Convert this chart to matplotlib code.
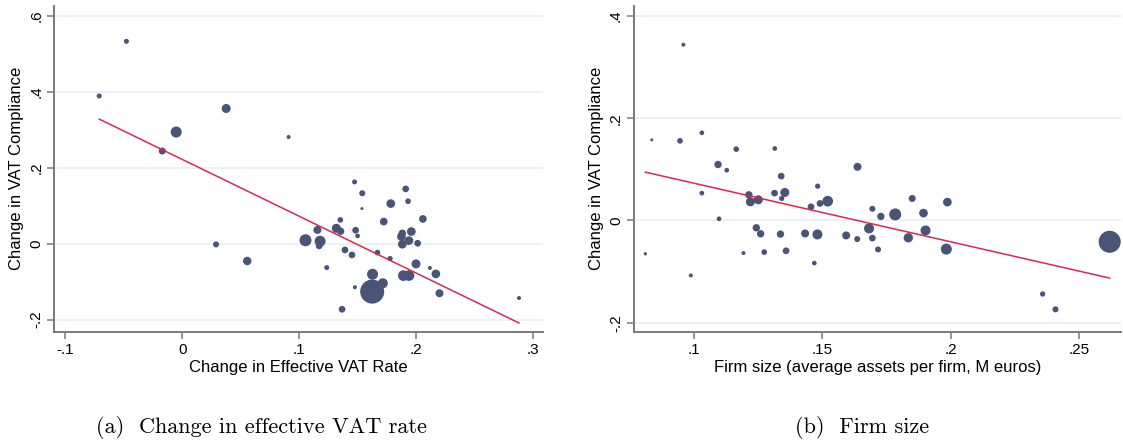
import numpy as np
import matplotlib.pyplot as plt

# Panel (a): change in effective VAT rate vs change in VAT compliance
rate_x = [-0.0477, -0.071, 0.0377, -0.0051, -0.017, 0.0911, 0.029, 0.0557,
          0.1476, 0.1542, 0.1539, 0.1914, 0.1934, 0.1786, 0.2061, 0.1726,
          0.1354, 0.1320, 0.1357, 0.1158, 0.1485, 0.1502, 0.1056, 0.1181,
          0.1173, 0.1394, 0.1454, 0.1238, 0.1672, 0.1780, 0.1877, 0.1885,
          0.1962, 0.1942, 0.1885, 0.2016, 0.2002, 0.2121, 0.2172, 0.1894,
          0.1942, 0.2203, 0.1630, 0.1718, 0.1627, 0.1479, 0.1369, 0.2884]
rate_y = [0.533, 0.389, 0.356, 0.294, 0.244, 0.281, -0.002, -0.0457,
          0.1626, 0.1328, 0.0924, 0.1442, 0.1117, 0.1055, 0.0651, 0.0581,
          0.0625, 0.0405, 0.0326, 0.0361, 0.0353, 0.0203, 0.0089, 0.0063,
          -0.0060, -0.0166, -0.0297, -0.0631, -0.0236, -0.0394, 0.0186, 0.0274,
          0.0318, 0.0080, -0.0016, 0.0010, -0.0534, -0.0640, -0.0798, -0.0842,
          -0.0842, -0.1307, -0.0807, -0.1044, -0.1264, -0.1149, -0.1729, -0.1433]
rate_w = [25, 25, 81, 121, 49, 16, 36, 72,
          25, 36, 9, 45, 32, 75, 59, 59,
          32, 81, 54, 64, 45, 22, 144, 121,
          45, 45, 45, 25, 32, 28, 75, 54,
          75, 75, 75, 45, 81, 16, 75, 114,
          114, 64, 121, 100, 576, 16, 45, 16]
rate_fit = (0.222, -1.495)  # intercept, slope

# Panel (b): firm size vs change in VAT compliance
size_x = [0.0836, 0.0811, 0.0946, 0.1031, 0.0988, 0.1031, 0.1094, 0.1128,
          0.1098, 0.1165, 0.1193, 0.1214, 0.1220, 0.1251, 0.1243, 0.1260,
          0.1274, 0.1315, 0.1314, 0.1340, 0.1354, 0.1342, 0.1337, 0.1359,
          0.1433, 0.1481, 0.1482, 0.1469, 0.1456, 0.1491, 0.1521, 0.1593,
          0.1637, 0.1636, 0.1695, 0.1728, 0.1784, 0.1682, 0.1695, 0.1717,
          0.1850, 0.1894, 0.1902, 0.1835, 0.1987, 0.1983, 0.2358, 0.2408,
          0.2619, 0.0959]
size_y = [0.1578, -0.0651, 0.1558, 0.1715, -0.1075, 0.0535, 0.1095, 0.0984,
          0.0033, 0.1396, -0.0638, 0.0502, 0.0365, 0.0404, -0.0143, -0.0260,
          -0.0619, 0.1408, 0.0535, 0.0868, 0.0548, 0.0431, -0.0267, -0.0593,
          -0.0254, -0.0273, 0.0671, -0.0834, 0.0268, 0.0333, 0.0378, -0.0293,
          0.105, -0.0364, 0.0229, 0.0079, 0.0118, -0.0156, -0.0345, -0.0567,
          0.0431, 0.0144, -0.0195, -0.0339, 0.0359, -0.0560, -0.1439, -0.1739,
          -0.0417, 0.344]
size_w = [9, 11, 32, 22, 16, 22, 54, 22,
          22, 32, 16, 54, 81, 81, 54, 54,
          32, 22, 45, 45, 81, 28, 54, 45,
          64, 100, 28, 22, 45, 45, 114, 64,
          64, 36, 36, 54, 144, 100, 45, 36,
          49, 75, 100, 87, 75, 121, 28, 36,
          484, 16]
size_fit = (0.1876, -1.1466)

navy = '#4a5477'
red = '#d62a52'
grid_c = '#e8f0f2'
spine_c = '#7a7a7a'
sans = 'Liberation Sans'


def stata_fmt(v):
    s = ('%g' % v)
    return s.replace('0.', '.') if s != '0' else s


def draw_panel(ax, xs, ys, ws, fit, xticks, yticks, xlim, ylim, xlabel, ylab_x):
    xs = np.array(xs)
    ys = np.array(ys)
    ax.scatter(xs, ys, s=np.array(ws) * 0.52, color=navy, linewidths=0, zorder=2)
    lx = np.array([xs.min(), xs.max()])
    ax.plot(lx, fit[0] + fit[1] * lx, color=red, lw=1.1, zorder=3)
    ax.set_xlim(*xlim)
    ax.set_ylim(*ylim)
    ax.set_xticks(xticks)
    ax.set_xticklabels([stata_fmt(t) for t in xticks], fontfamily=sans, fontsize=11)
    ax.set_yticks(yticks)
    ax.set_yticklabels([stata_fmt(t) for t in yticks], fontfamily=sans, fontsize=11,
                       rotation=90, va='center')
    for t in yticks:
        ax.axhline(t, color=grid_c, lw=1.2, zorder=0)
    for side in ['top', 'right']:
        ax.spines[side].set_visible(False)
    for side in ['left', 'bottom']:
        ax.spines[side].set_color(spine_c)
        ax.spines[side].set_linewidth(1.4)
    ax.tick_params(direction='out', length=5, width=1.1, color=spine_c, pad=3)
    ax.set_xlabel(xlabel, fontfamily=sans, fontsize=12, labelpad=2.5)
    ax.set_ylabel('Change in VAT Compliance', fontfamily=sans, fontsize=12)
    ax.yaxis.set_label_coords(ylab_x, 0.5)


fig = plt.figure(figsize=(11.23, 4.46), dpi=100)
ax1 = fig.add_axes([0.0484, 0.2563, 0.4351, 0.7302])
ax2 = fig.add_axes([0.5646, 0.2563, 0.4336, 0.7302])

draw_panel(ax1, rate_x, rate_y, rate_w, rate_fit,
           [-0.1, 0, 0.1, 0.2, 0.3], [-0.2, 0, 0.2, 0.4, 0.6],
           (-0.1094, 0.3089), (-0.232, 0.626),
           'Change in Effective VAT Rate', -0.062)
draw_panel(ax2, size_x, size_y, size_w, size_fit,
           [0.1, 0.15, 0.2, 0.25], [-0.2, 0, 0.2, 0.4],
           (0.0767, 0.2663), (-0.2176, 0.4196),
           'Firm size (average assets per firm, M euros)', -0.0616)

fig.text(0.2330, 0.0285, '(a)  Change in effective VAT rate', family='cmr10',
         fontsize=16, ha='center', va='baseline')
fig.text(0.7676, 0.0285, '(b)  Firm size', family='cmr10',
         fontsize=16, ha='center', va='baseline')

fig.savefig('out.png', dpi=100)
